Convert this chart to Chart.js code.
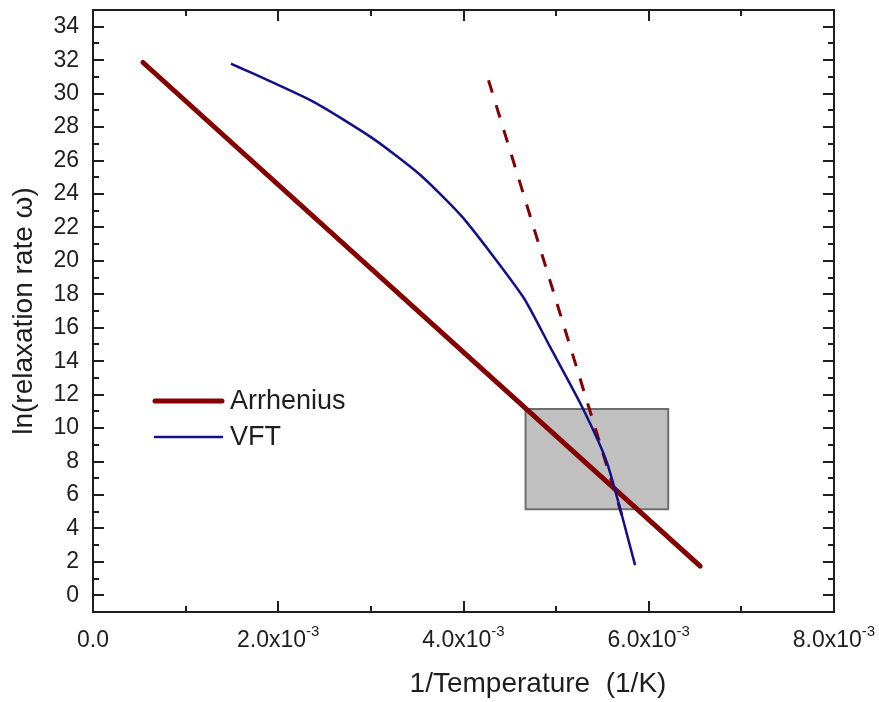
<!DOCTYPE html>
<html>
<head>
<meta charset="utf-8">
<script src="https://cdn.jsdelivr.net/npm/chart.js@4.4.1/dist/chart.umd.min.js"></script>
<style>
  body { margin: 0; background: #fff; }
  canvas { display: block; }
</style>
</head>
<body>
<canvas id="chart" width="879" height="702"></canvas>
<script>
// values
const arrheniusX = [0.54e-3, 6.555e-3];
const arrheniusY = [31.86, 1.74];

const dashedX = [4.27e-3, 5.71e-3];
const dashedY = [30.8, 4.8];

const vftX = [1.49e-3, 2.376e-3, 3.024e-3, 3.531e-3, 3.996e-3, 4.644e-3, 4.935e-3, 5.281e-3, 5.551e-3, 5.853e-3];
const vftY = [31.8, 29.52, 27.31, 25.15, 22.57, 17.84, 14.85, 11.26, 7.9, 1.8];

const boxX = [4.67e-3, 6.21e-3];
const boxY = [5.15, 11.14];

const xTickValues = [0, 2e-3, 4e-3, 6e-3, 8e-3];
const xTickText = ['0.0', '2.0x10', '4.0x10', '6.0x10', '8.0x10'];
const xTickExp = ['', '-3', '-3', '-3', '-3'];
const xMinorTicks = [1e-3, 3e-3, 5e-3, 7e-3];

const yTickValues = [0, 2, 4, 6, 8, 10, 12, 14, 16, 18, 20, 22, 24, 26, 28, 30, 32, 34];
const yMinorTicks = [1, 3, 5, 7, 9, 11, 13, 15, 17, 19, 21, 23, 25, 27, 29, 31, 33];

const legendNames = ['Arrhenius', 'VFT'];
const xTitle = '1/Temperature  (1/K)';
const yTitle = 'ln(relaxation rate ω)';

function toPoints(xs, ys) {
    return xs.map((x, i) => ({ x: x, y: ys[i] }));
}

const boxPoints = [
    { x: boxX[0], y: boxY[1] },
    { x: boxX[1], y: boxY[1] },
    { x: boxX[1], y: boxY[0] },
    { x: boxX[0], y: boxY[0] },
    { x: boxX[0], y: boxY[1] }
];

const red = '#850000';
const blue = '#10108c';
const ink = '#1e1e1e';
const font = '"Liberation Sans", Arial, sans-serif';

const frameAndLabels = {
    id: 'frameAndLabels',
    afterDraw(chart) {
        const ctx = chart.ctx;
        const area = chart.chartArea;
        const xs = chart.scales.x;
        const ys = chart.scales.y;

        ctx.save();
        ctx.strokeStyle = ink;
        ctx.lineWidth = 2;
        ctx.strokeRect(area.left, area.top, area.right - area.left, area.bottom - area.top);

        // inward ticks on all four sides
        ctx.beginPath();
        const xTick = (v, len) => {
            const px = Math.round(xs.getPixelForValue(v));
            ctx.moveTo(px, area.bottom); ctx.lineTo(px, area.bottom - len);
            ctx.moveTo(px, area.top); ctx.lineTo(px, area.top + len);
        };
        const yTick = (v, len) => {
            const py = Math.round(ys.getPixelForValue(v));
            ctx.moveTo(area.left, py); ctx.lineTo(area.left + len, py);
            ctx.moveTo(area.right, py); ctx.lineTo(area.right - len, py);
        };
        xTickValues.forEach(v => xTick(v, 11));
        xMinorTicks.forEach(v => xTick(v, 6));
        yTickValues.forEach(v => yTick(v, 11));
        yMinorTicks.forEach(v => yTick(v, 6));
        ctx.stroke();

        // x tick labels with superscript exponent
        ctx.fillStyle = ink;
        ctx.textBaseline = 'alphabetic';
        ctx.textAlign = 'left';
        xTickValues.forEach((v, i) => {
            ctx.font = '23px ' + font;
            const w1 = ctx.measureText(xTickText[i]).width;
            ctx.font = '15px ' + font;
            const w2 = xTickExp[i] ? ctx.measureText(xTickExp[i]).width : 0;
            const px = xs.getPixelForValue(v);
            const start = px - (w1 + w2) / 2;
            ctx.font = '23px ' + font;
            ctx.fillText(xTickText[i], start, 647);
            if (xTickExp[i]) {
                ctx.font = '15px ' + font;
                ctx.fillText(xTickExp[i], start + w1, 636);
            }
        });

        // x axis title, sits right of centre in the reference
        ctx.font = '28px ' + font;
        ctx.textAlign = 'center';
        ctx.fillText(xTitle, 538, 692);

        // legend inside the plot
        const rows = [
            { y: 401, ds: chart.data.datasets[0] },
            { y: 437, ds: chart.data.datasets[2] }
        ];
        ctx.font = '27px ' + font;
        ctx.textAlign = 'left';
        ctx.textBaseline = 'middle';
        rows.forEach((r, i) => {
            ctx.beginPath();
            ctx.strokeStyle = r.ds.borderColor;
            ctx.lineWidth = r.ds.borderWidth;
            ctx.lineCap = 'round';
            ctx.moveTo(155, r.y);
            ctx.lineTo(222, r.y);
            ctx.stroke();
            ctx.fillStyle = ink;
            ctx.fillText(legendNames[i], 230, r.y + 1);
        });
        ctx.restore();
    }
};

const ctx = document.getElementById('chart').getContext('2d');

new Chart(ctx, {
    type: 'line',
    data: {
        datasets: [
            {
                label: legendNames[0],
                data: toPoints(arrheniusX, arrheniusY),
                borderColor: red,
                borderWidth: 5,
                borderCapStyle: 'round',
                pointRadius: 0,
                fill: false,
                order: 3
            },
            {
                label: 'Arrhenius (low T)',
                data: toPoints(dashedX, dashedY),
                borderColor: red,
                borderWidth: 3,
                borderDash: [13, 13],
                pointRadius: 0,
                fill: false,
                order: 2
            },
            {
                label: legendNames[1],
                data: toPoints(vftX, vftY),
                borderColor: blue,
                borderWidth: 2.5,
                borderJoinStyle: 'round',
                tension: 0.2,
                pointRadius: 0,
                fill: false,
                order: 1
            },
            {
                label: 'box',
                data: boxPoints,
                borderColor: '#6e6e6e',
                backgroundColor: '#c0c0c0',
                borderWidth: 2,
                pointRadius: 0,
                fill: 'shape',
                order: 4
            }
        ]
    },
    options: {
        responsive: false,
        animation: false,
        layout: {
            padding: { top: 10, right: 45, left: 0, bottom: 0 }
        },
        plugins: {
            legend: { display: false },
            tooltip: { enabled: false }
        },
        scales: {
            x: {
                type: 'linear',
                min: 0,
                max: 0.008,
                grid: { display: false, drawTicks: false },
                border: { display: false },
                ticks: { display: false },
                afterFit: (scale) => {
                    scale.height = 90;
                    scale.paddingLeft = 0;
                    scale.paddingRight = 0;
                }
            },
            y: {
                type: 'linear',
                min: -1,
                max: 35,
                grid: { display: false, drawTicks: false },
                border: { display: false },
                afterBuildTicks: (scale) => {
                    scale.ticks = yTickValues.map(v => ({ value: v }));
                },
                ticks: {
                    color: ink,
                    padding: 14,
                    font: { family: font, size: 23 }
                },
                title: {
                    display: true,
                    text: yTitle,
                    color: ink,
                    font: { family: font, size: 28 },
                    padding: { top: 7, bottom: 0 }
                },
                afterFit: (scale) => {
                    scale.width = 93;
                    scale.paddingTop = 0;
                    scale.paddingBottom = 0;
                }
            }
        }
    },
    plugins: [frameAndLabels]
});
</script>
</body>
</html>
